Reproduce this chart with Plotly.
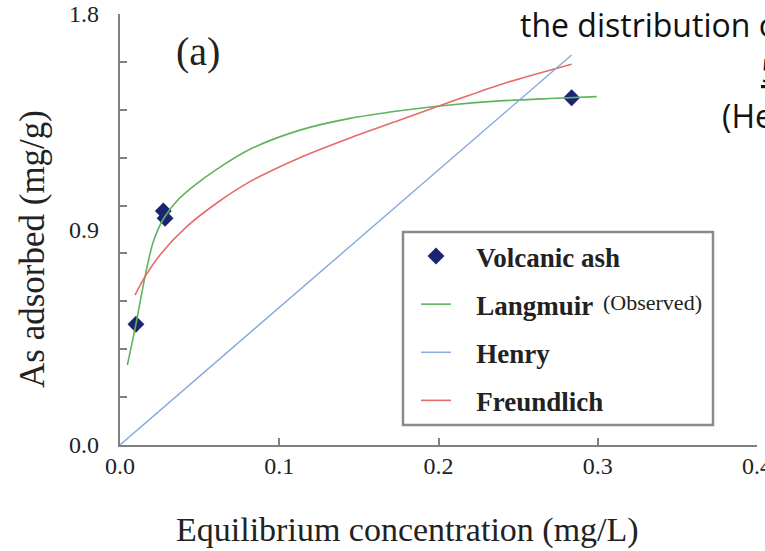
import plotly.graph_objects as go

# ---- data ----
obs_x = [0.0100, 0.0272, 0.0283, 0.2836]
obs_y = [0.504, 0.977, 0.947, 1.450]

lang_x = [0.0046, 0.0100, 0.0157, 0.0209, 0.0276, 0.0366, 0.0470, 0.0600, 0.0816,
          0.1130, 0.1444, 0.1758, 0.2072, 0.2386, 0.2700, 0.2993]
lang_y = [0.334, 0.504, 0.703, 0.849, 0.948, 1.025, 1.085, 1.148, 1.235,
          1.315, 1.364, 1.396, 1.420, 1.437, 1.447, 1.455]

henry_x = [0.0, 0.2836]
henry_y = [0.0, 1.629]

freu_x = [0.0094, 0.0157, 0.0251, 0.0419, 0.0628, 0.0816, 0.1130, 0.1444,
          0.1758, 0.2072, 0.2386, 0.2836]
freu_y = [0.626, 0.703, 0.794, 0.912, 1.020, 1.100, 1.200, 1.282,
          1.357, 1.432, 1.505, 1.590]

x_ticks = [0.0, 0.1, 0.2, 0.3, 0.4]
x_ticktext = ["0.0", "0.1", "0.2", "0.3", "0.4"]
y_label_vals = [0.0, 0.9, 1.8]
y_label_text = ["0.0", "0.9", "1.8"]

SERIF = "Liberation Serif"
AXIS_COLOR = "#808080"
TEXT = "#222222"
NB = "\u00a0\u00a0\u00a0"

fig = go.Figure()
fig.add_trace(go.Scatter(
    x=obs_x, y=obs_y, mode="markers", name=NB + "Volcanic ash", legendgroup="a",
    marker=dict(symbol="diamond", size=13, color="#1b2470")))
fig.add_trace(go.Scatter(
    x=lang_x, y=lang_y, mode="lines", name=NB + "Langmuir", legendgroup="b",
    line=dict(color="#5fb35f", width=1.6, shape="spline", smoothing=0.8)))
fig.add_trace(go.Scatter(
    x=henry_x, y=henry_y, mode="lines", name=NB + "Henry", legendgroup="c",
    yaxis="y2",
    line=dict(color="#86a9d9", width=1.4)))
fig.add_trace(go.Scatter(
    x=freu_x, y=freu_y, mode="lines", name=NB + "Freundlich", legendgroup="d",
    line=dict(color="#e86a6a", width=1.6, shape="spline", smoothing=0.8)))

W, H = 765, 551
L, R, T, B = 120, 8, 14, 106
PW, PH = W - L - R, H - T - B


def px(xp):
    return (xp - L) / PW


def py(yp):
    return (H - B - yp) / PH


fig.update_layout(
    width=W, height=H, autosize=False,
    margin=dict(l=L, r=R, t=T, b=B, pad=0, autoexpand=False),
    paper_bgcolor="white", plot_bgcolor="white",
    font=dict(family=SERIF, color=TEXT),
    xaxis=dict(range=[0, 0.4], tickvals=x_ticks, ticktext=x_ticktext,
               ticks="inside", ticklen=7, tickwidth=1.5, tickcolor=AXIS_COLOR,
               showline=True, linecolor=AXIS_COLOR, linewidth=2,
               showgrid=False, zeroline=False, automargin=False,
               tickfont=dict(family=SERIF, size=24, color=TEXT),
               ticklabelstandoff=-2, ticklabeloverflow="allow"),
    yaxis=dict(range=[0, 1.8], dtick=0.2, tick0=0,
               ticks="inside", ticklen=7, tickwidth=1.5, tickcolor=AXIS_COLOR,
               showticklabels=False, automargin=False,
               showline=True, linecolor=AXIS_COLOR, linewidth=2,
               showgrid=False, zeroline=False),
    yaxis2=dict(overlaying="y", matches="y", side="left", anchor="x",
                range=[0, 1.8], tickvals=y_label_vals, ticktext=y_label_text,
                ticks="", showline=False, showgrid=False, zeroline=False,
                automargin=False,
                tickfont=dict(family=SERIF, size=24, color=TEXT),
                ticklabelstandoff=20),
    showlegend=True,
    legend=dict(x=px(416), y=py(232), xanchor="left", yanchor="top",
                bgcolor="rgba(0,0,0,0)", borderwidth=0,
                tracegroupgap=10, traceorder="grouped",
                font=dict(family=SERIF, size=27, color=TEXT, weight="bold")),
)

fig.add_shape(type="rect", xref="paper", yref="paper",
              x0=px(403), x1=px(713), y0=py(425), y1=py(232),
              line=dict(color="#8a8a8a", width=2.5), layer="below")

annos = [
    dict(text="As adsorbed (mg/g)", x=px(33), y=py(249), textangle=-90,
         font=dict(family=SERIF, size=35, color=TEXT)),
    dict(text="Equilibrium concentration (mg/L)", x=px(407), y=py(530),
         font=dict(family=SERIF, size=34, color=TEXT)),
    dict(text="(a)", x=px(198), y=py(51),
         font=dict(family=SERIF, size=40, color=TEXT)),
    dict(text="(Observed)", x=px(652), y=py(303),
         font=dict(family=SERIF, size=22, color=TEXT)),
]
for a in annos:
    fig.add_annotation(xref="paper", yref="paper", showarrow=False,
                       xanchor="center", yanchor="middle", **a)

SANS = "Open Sans"
slide = [
    dict(text="the distribution of", x=px(518), y=py(25)),
    dict(text="<u>5</u>", x=px(759), y=py(70)),
    dict(text="(He", x=px(720), y=py(115)),
]
for a in slide:
    fig.add_annotation(xref="paper", yref="paper", showarrow=False,
                       xanchor="left", yanchor="middle",
                       font=dict(family=SANS, size=32, color="#111111"), **a)

fig.write_html("out.html",
               config={"displayModeBar": False},
               post_script="document.body.style.margin='0';"
                           "document.body.style.overflow='hidden';")
